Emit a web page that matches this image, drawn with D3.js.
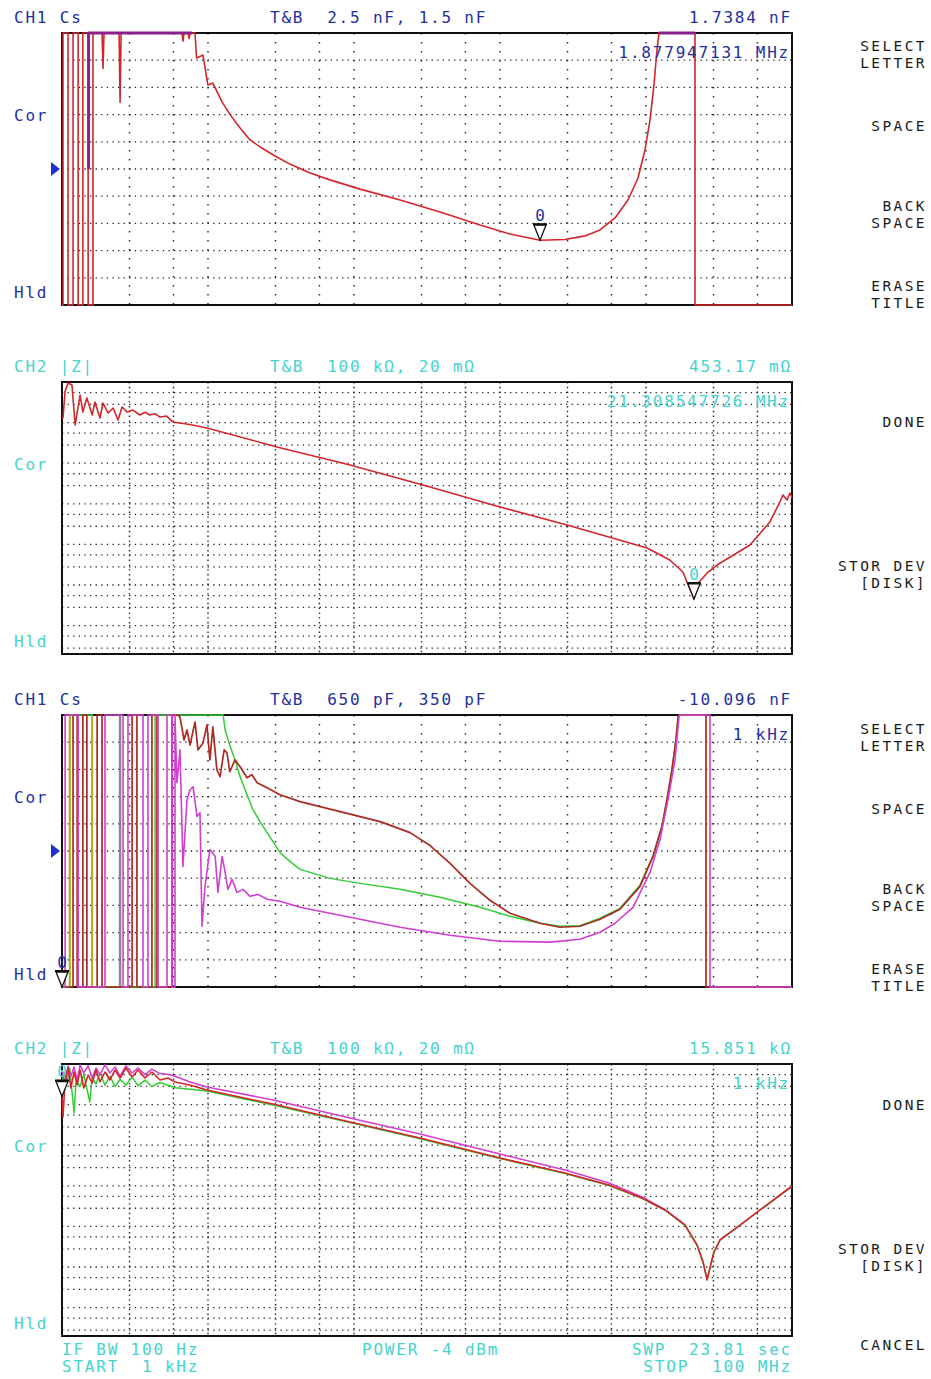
<!DOCTYPE html>
<html lang="en">
<head>
<meta charset="UTF-8">
<title>Network analyzer sweeps - Cs and |Z|</title>
<script src="https://cdn.jsdelivr.net/npm/d3@7"></script>
<style>
  html, body { margin: 0; padding: 0; background: #fff; }
  svg text { font-family: "DejaVu Sans Mono", monospace; font-size: 16px; letter-spacing: 1.8px; white-space: pre; }
  svg text.key { font-size: 14.5px; letter-spacing: 2.4px; }
</style>
</head>
<body>
<svg id="chart" width="931" height="1379"></svg>
<script>
// sweep 1 kHz .. 100 MHz, all frequencies below in kHz

// grid positions (instrument graticule, 3 lines per decade)
var freqGrid = [2.9, 5.8, 10, 29, 58, 100, 290, 580, 1000, 2900, 5800, 10000, 29000, 58000];
var zGrid = [55000, 28000, 10000, 5500, 2800, 1000, 550, 280, 100, 55, 28, 10, 5.5, 2.8, 1, 0.55, 0.28, 0.1, 0.055, 0.028];

// panel 1 : CH1 Cs [kHz, nF]
var cs1Trace = [[1, 1.0], [1.016, 1.0], [1.016, 3.0], [1.10, 3.0], [1.10, 1.0], [1.19, 1.0], [1.19, 3.0], [1.29, 3.0],
  [1.29, 1.0], [1.39, 1.0], [1.39, 3.0], [1.51, 3.0], [1.51, 1.0], [1.63, 1.0], [1.63, 3.0], [1.88, 3.0], [1.91, 2.37],
  [1.94, 3.0], [2.46, 3.0], [2.50, 2.245], [2.54, 3.0], [6.64, 3.0], [6.74, 2.47], [6.85, 3.0], [7.30, 3.0], [7.42, 2.48],
  [7.55, 3.0], [8.15, 2.52], [8.35, 2.408], [9.24, 2.419], [9.98, 2.309], [10.8, 2.316], [12.5, 2.246], [14.2, 2.199],
  [16.6, 2.151], [19.4, 2.107], [23.4, 2.077], [28.8, 2.048], [36.4, 2.018], [50.0, 1.985], [68.5, 1.960], [110, 1.926],
  [207, 1.886], [388, 1.842], [730, 1.794], [1171, 1.761], [1878, 1.738], [2788, 1.741], [3821, 1.754], [4841, 1.776],
  [6134, 1.820], [7528, 1.886], [8814, 1.967], [9844, 2.070], [10650, 2.180], [11340, 2.309], [11890, 2.438],
  [12270, 2.52], [21660, 3.0], [21660, 1.0], [100000, 1.0]];
var cs1Memory = [[1.52, 2.0], [1.52, 3.0], [7.77, 3.0], null, [12270, 3.0], [21660, 3.0]];

// panel 2 : CH2 |Z| [kHz, ohm]
var z1Trace = [[1.0, 13000], [1.016, 12990], [1.05, 60000], [1.10, 94500], [1.17, 84400], [1.23, 8730], [1.33, 47800],
  [1.39, 18200], [1.48, 40400], [1.61, 15400], [1.68, 32200], [1.82, 13000], [1.91, 30400], [2.07, 17200], [2.24, 22900],
  [2.42, 11600], [2.58, 24200], [2.79, 18200], [3.06, 20400], [3.42, 15400], [3.70, 18000], [4.00, 15400], [4.35, 16500],
  [4.69, 13700], [5.2, 14500], [5.75, 10300], [7.5, 9000], [9.84, 7360], [29.7, 2510], [93.9, 903], [297, 291],
  [1000, 83.5], [2877, 30.1], [10170, 8.16], [14560, 4.13], [17890, 2.09], [21308.547726, 0.45317], [22740, 1.12],
  [26630, 2.09], [30650, 3.11], [51520, 9.67], [70580, 35.7], [82640, 111], [86720, 165], [92400, 124], [96890, 185],
  [100000, 139]];

// panel 3 : CH1 Cs, three stored sweeps [kHz, pF]
var cs2Red = [[1, 300], [1.19, 300], [1.19, 700], [1.27, 700], [1.27, 300], [1.39, 300], [1.39, 700], [1.48, 700],
  [1.48, 300], [1.74, 300], [1.74, 700], [1.88, 700], [1.88, 300], [3.02, 300], [3.02, 700], [3.26, 700], [3.26, 300],
  [4.13, 300], [4.13, 700], [4.47, 700], [4.47, 300], [5.67, 300], [5.67, 700], [6.20, 700], [6.43, 647.8], [6.85, 622.5],
  [7.18, 633.5], [7.53, 617.0], [8.15, 642.3], [8.54, 611.5], [9.24, 619.2], [9.84, 639.0], [10.3, 600.5], [10.8, 636.8],
  [11.5, 589.6], [12.1, 581.9], [12.9, 611.5], [13.5, 608.2], [14.1, 587.4], [15.3, 600.5], [16.6, 592.9], [18.5, 580.8],
  [20.0, 584.1], [21.7, 575.3], [25.4, 569.8], [31.1, 562.1], [42.7, 554.4], [80.2, 543.4], [151, 532.4], [242, 520.3],
  [332, 506.0], [455, 486.3], [623, 464.3], [854, 445.6], [1171, 431.3], [1879, 420.3], [2577, 415.9], [3530, 417.0],
  [4841, 424.7], [6636, 435.7], [9096, 461.0], [11170, 494.0], [12870, 527.0], [13930, 556.6], [15070, 589.6],
  [16050, 622.5], [16570, 646.7], [16830, 700], [25770, 700], [25770, 300], [100000, 300]];
var cs2Green = [[1, 300], [1.13, 300], [1.13, 700], [1.61, 700], [1.61, 300], [4.34, 300], [4.34, 700], [12.7, 700],
  [13.1, 633.5], [14.1, 617.0], [15.3, 600.5], [16.6, 581.9], [18.5, 562.1], [20.3, 545.6], [22.7, 532.4], [25.4, 520.3],
  [31.1, 498.4], [36.4, 488.5], [42.7, 479.7], [68.5, 469.8], [110, 464.3], [207, 457.7], [388, 448.9], [730, 437.9],
  [1171, 428.0], [1879, 420.3], [2577, 417.0], [3530, 417.6], [4841, 425.8], [6636, 436.8], [9096, 462.1], [11170, 495.1],
  [12870, 528.1], [13930, 557.7], [15070, 590.7], [16050, 623.6], [16570, 647.8], [16830, 700], [25770, 700]];
var cs2Magenta = [[1, 300], [1.05, 300], [1.05, 700], [1.29, 700], [1.29, 300], [1.97, 300], [1.97, 700], [2.62, 700],
  [2.62, 300], [2.83, 300], [2.83, 700], [3.59, 700], [3.59, 310], [3.88, 315], [3.88, 700], [4.55, 700], [4.55, 320],
  [5.24, 325], [5.24, 700], [5.67, 700], [5.67, 330], [5.94, 340], [5.94, 700], [6.13, 575.3], [6.43, 611.5], [6.74, 483.0],
  [7.18, 556.6], [7.53, 567.6], [7.90, 570.9], [8.41, 537.9], [8.81, 542.3], [9.10, 417.0], [9.54, 461.0], [10.3, 501.6],
  [11.2, 494.0], [11.7, 454.4], [12.5, 494.0], [13.1, 476.4], [13.7, 457.7], [14.6, 468.7], [15.8, 454.4], [17.4, 457.7],
  [19.4, 450.0], [22.0, 452.2], [25.4, 446.7], [31.1, 444.5], [42.7, 437.9], [93.9, 426.9], [207, 415.9], [455, 407.1],
  [1000, 400.5], [2200, 399.5], [3530, 402.7], [4841, 410.4], [6134, 420.3], [8147, 437.9], [10650, 476.4],
  [12470, 512.6], [14150, 556.6], [15800, 600.5], [16830, 647.8], [17100, 700], [27440, 700], [27440, 300], [100000, 300]];
// short stored sweeps that only show as spikes at the low end
var cs2Olive = [[1.13, 300], [1.13, 700], null, [1.61, 700], [1.61, 300]];
var cs2Gray = [[2.50, 300], [2.50, 700]];

// panel 4 : CH2 |Z|, three stored sweeps [kHz, ohm]
var z2Red = [[1, 15851], [1.016, 4950], [1.05, 40400], [1.10, 79700], [1.15, 25600], [1.21, 63500], [1.27, 30400],
  [1.33, 71200], [1.41, 25600], [1.51, 53600], [1.61, 34000], [1.71, 71200], [1.82, 36000], [1.97, 63500], [2.13, 40400],
  [2.31, 71200], [2.50, 45200], [2.74, 79700], [3.02, 47800], [3.32, 71200], [3.70, 45200], [4.13, 63500], [4.69, 40400],
  [5.32, 45200], [5.94, 36000], [7.53, 30400], [9.84, 22900], [27.9, 10300], [93.9, 3730], [283, 1500], [1000, 484],
  [2790, 207], [5580, 105], [9390, 50.1], [13500, 25.4], [18500, 10.8], [22400, 3.49], [24600, 1.33], [26200, 0.48],
  [27400, 0.95], [29200, 2.34], [32100, 4.63], [44000, 10.8], [60400, 25.4], [82800, 59.4], [100000, 99]];
var z2Green = [[1, 30000], [1.03, 62000], [1.08, 35000], [1.13, 80000], [1.21, 6200], [1.25, 40000], [1.33, 28000],
  [1.41, 55000], [1.55, 11600], [1.61, 45000], [1.71, 32000], [1.82, 60000], [1.97, 30000], [2.13, 50000], [2.31, 28000],
  [2.50, 42000], [2.74, 30000], [3.02, 48000], [3.32, 29000], [3.70, 40000], [4.13, 28000], [4.69, 35000], [5.32, 30000],
  [5.94, 26000], [7.53, 24000], [9.84, 21500], [27.9, 9800], [93.9, 3600], [283, 1450], [1000, 470], [2790, 200],
  [5580, 102], [9390, 49], [13500, 25], [18500, 10.6], [22400, 3.4], [24600, 1.3], [26200, 0.5], [27400, 0.95],
  [29200, 2.3], [32100, 4.6], [44000, 10.6], [60400, 25], [82800, 58], [100000, 97]];
var z2Magenta = [[1, 70000], [1.05, 30000], [1.10, 90000], [1.15, 50000], [1.21, 85000], [1.27, 40000], [1.33, 95000],
  [1.41, 60000], [1.51, 90000], [1.61, 45000], [1.71, 80000], [1.82, 55000], [1.97, 95000], [2.13, 60000], [2.31, 85000],
  [2.50, 50000], [2.74, 90000], [3.02, 60000], [3.32, 80000], [3.70, 55000], [4.13, 75000], [4.69, 58000], [5.32, 56000],
  [5.94, 50000], [7.53, 36000], [9.84, 27200], [27.9, 13000], [93.9, 4680], [283, 1890], [1000, 607], [2790, 245],
  [5580, 117], [9390, 53], [13500, 26], [18500, 11]];

// marker 0 positions [kHz, value]
var marker1 = [1877.947131, 1.7384];
var marker2 = [21308.547726, 0.45317];
var marker3 = [1, -10096];
var marker4 = [1, 15851];

// softkey menus: each entry one key, one or two lines
var softkeysTop = [["SELECT", "LETTER"], ["SPACE"], ["BACK", "SPACE"], ["ERASE", "TITLE"], ["DONE"], ["STOR DEV", "[DISK]"]];
var softkeysBottom = [["SELECT", "LETTER"], ["SPACE"], ["BACK", "SPACE"], ["ERASE", "TITLE"], ["DONE"], ["STOR DEV", "[DISK]"], ["CANCEL"]];
var keyCentres = [54, 126, 214, 294, 422, 574, 662];   // layout, menu of the upper half

var BLUE = "#23309f", CYAN = "#45d3cf";
var RED = "#d3262a", DRED = "#ad2a22", GREEN = "#33cc33", MAG = "#d23ed2", PURP = "#8c1e8c";

var panels = [
  { top: 33, log: false, domain: [1.5, 2.5], color: BLUE, ch: "CH1 Cs", tb: "T&B  2.5 nF, 1.5 nF", val: "1.7384 nF",
    mkText: "1.877947131 MHz", marker: marker1, ref: true,
    series: [[cs1Trace, RED, 1.6], [cs1Memory, PURP, 2.8]] },
  { top: 382, log: true, domain: [0.02, 1e5], color: CYAN, ch: "CH2 |Z|", tb: "T&B  100 k\u03a9, 20 m\u03a9", val: "453.17 m\u03a9",
    mkText: "21.308547726 MHz", marker: marker2, ref: false,
    series: [[z1Trace, RED, 1.6]] },
  { top: 715, log: false, domain: [350, 650], color: BLUE, ch: "CH1 Cs", tb: "T&B  650 pF, 350 pF", val: "-10.096 nF",
    mkText: "1 kHz", marker: marker3, ref: true,
    series: [[cs2Green, GREEN, 1.5], [cs2Olive, "#b8a820", 2], [cs2Gray, "#888", 2.5], [cs2Red, DRED, 1.7], [cs2Magenta, MAG, 1.6]] },
  { top: 1064, log: true, domain: [0.02, 1e5], color: CYAN, ch: "CH2 |Z|", tb: "T&B  100 k\u03a9, 20 m\u03a9", val: "15.851 k\u03a9",
    mkText: "1 kHz", marker: marker4, ref: false,
    series: [[z2Green, GREEN, 1.5], [z2Magenta, MAG, 1.5], [z2Red, RED, 1.6]] }
];

var svg = d3.select("#chart");
var X0 = 62, X1 = 792, PH = 272;
var x = d3.scaleLog().domain([1, 1e5]).range([X0, X1]);

function label(g, px, py, s, color, anchor) {
  return g.append("text").attr("x", px).attr("y", py).attr("fill", color)
    .attr("text-anchor", anchor || "start").text(s);
}

function drawPanel(p) {
  var g = svg.append("g");
  var y = (p.log ? d3.scaleLog() : d3.scaleLinear())
    .domain(p.domain).range([p.top + PH, p.top]).clamp(true);

  // graticule
  var hLines = p.log ? zGrid : d3.range(1, 10).map(function(i) {
    return p.domain[0] + (p.domain[1] - p.domain[0]) * i / 10;
  });
  g.selectAll("line.h").data(hLines).join("line").attr("class", "h")
    .attr("x1", X0).attr("x2", X1).attr("y1", d => y(d)).attr("y2", d => y(d))
    .attr("stroke", "#222").attr("stroke-width", 1.3).attr("stroke-dasharray", "1.3,4.3");
  g.selectAll("line.v").data(freqGrid).join("line").attr("class", "v")
    .attr("x1", d => x(d)).attr("x2", d => x(d)).attr("y1", p.top).attr("y2", p.top + PH)
    .attr("stroke", "#222").attr("stroke-width", 1.4).attr("stroke-dasharray", p.log ? "1.4,3.4" : "1.4,7.6");

  g.append("rect").attr("x", X0).attr("y", p.top).attr("width", X1 - X0).attr("height", PH)
    .attr("fill", "none").attr("stroke", "#111").attr("stroke-width", 2);

  var line = d3.line().defined(d => d != null).x(d => x(d[0])).y(d => y(d[1]));
  p.series.forEach(function(s) {
    g.append("path").datum(s[0]).attr("d", line)
      .attr("fill", "none").attr("stroke", s[1]).attr("stroke-width", s[2])
      .attr("stroke-linejoin", "round");
  });

  // header and side labels
  label(g, 14, p.top - 10, p.ch, p.color);
  label(g, 270, p.top - 10, p.tb, p.color);
  label(g, 792, p.top - 10, p.val, p.color, "end");
  label(g, 14, p.top + 88, "Cor", p.color);
  label(g, 14, p.top + 265, "Hld", p.color);
  label(g, 790, p.top + 25, p.mkText, p.color, "end");

  // reference position arrow
  if (p.ref) {
    var ry = y((p.domain[0] + p.domain[1]) / 2);
    g.append("path").attr("d", "M51," + (ry - 7) + "L60," + ry + "L51," + (ry + 7) + "Z").attr("fill", "#1f2fd0");
  }

  // marker 0
  var mx = x(p.marker[0]), my = y(p.marker[1]);
  g.append("path").attr("d", "M" + (mx - 6) + "," + (my - 15) + "L" + (mx + 6) + "," + (my - 15) + "L" + mx + "," + my + "Z")
    .attr("fill", "#fff").attr("stroke", "#111").attr("stroke-width", 1.3);
  g.append("line").attr("x1", mx - 7).attr("x2", mx + 7).attr("y1", my - 16).attr("y2", my - 16)
    .attr("stroke", "#111").attr("stroke-width", 2);
  label(g, mx + 1, my - 19, "0", p.color, "middle");
}

panels.forEach(drawPanel);

// softkey labels, right-aligned; the lower menu repeats 683 px further down
var keys = svg.append("g");
function drawKeys(list, shift) {
  list.forEach(function(k, i) {
    var c = keyCentres[i] + shift;
    k.forEach(function(t, j) {
      var yy = k.length === 1 ? c + 5 : c + 5 + (j === 0 ? -8.5 : 8.5);
      label(keys, 927, yy, t, "#1a1a1a", "end").attr("class", "key");
    });
  });
}
drawKeys(softkeysTop, 0);
drawKeys(softkeysBottom, 683);

// sweep settings
var foot = svg.append("g");
label(foot, 62, 1355, "IF BW 100 Hz", CYAN);
label(foot, 62, 1372, "START  1 kHz", CYAN);
label(foot, 362, 1355, "POWER -4 dBm", CYAN);
label(foot, 792, 1355, "SWP  23.81 sec", CYAN, "end");
label(foot, 792, 1372, "STOP  100 MHz", CYAN, "end");
</script>
</body>
</html>
